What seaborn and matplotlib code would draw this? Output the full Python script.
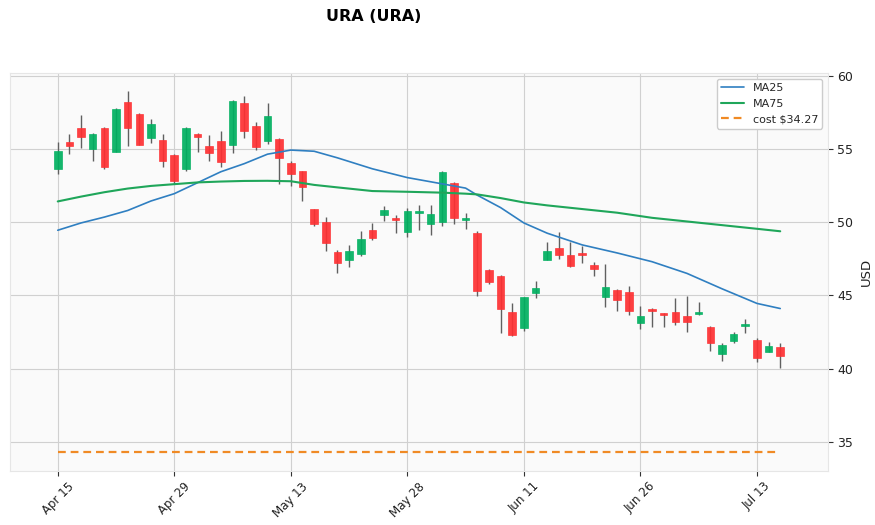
import numpy as np
import pandas as pd
import matplotlib
matplotlib.use("Agg")
import matplotlib.pyplot as plt
import seaborn as sns

title = "URA (URA)"
opens = [53.65, 55.49, 56.45, 54.97, 56.45, 54.81, 58.22, 57.40, 55.74, 55.63,
         54.60, 53.67, 56.04, 55.22, 55.56, 55.29, 58.16, 56.58, 55.58, 55.70,
         54.08, 53.51, 50.87, 50.03, 47.98, 47.45, 47.86, 49.48, 50.46, 50.32,
         49.36, 50.66, 49.91, 49.98, 52.69, 50.12, 49.26, 46.70, 46.29, 43.88,
         42.74, 45.13, 47.45, 48.25, 47.77, 47.91, 47.09, 44.86, 45.38, 45.25,
         43.08, 44.06, 43.79, 43.86, 43.61, 43.70, 42.86, 40.96, 41.85, 42.92,
         41.97, 41.10, 41.49]
highs = [55.47, 56.02, 57.34, 56.10, 56.50, 57.79, 58.98, 57.45, 57.04, 56.02,
         54.65, 56.50, 56.07, 55.97, 56.24, 58.36, 58.63, 56.84, 58.14, 55.75,
         54.20, 53.52, 50.92, 50.35, 48.11, 48.44, 49.43, 49.94, 51.10, 50.49,
         50.96, 51.19, 51.19, 53.49, 52.74, 50.62, 49.43, 46.80, 46.36, 44.47,
         44.90, 46.00, 48.64, 49.36, 48.64, 48.39, 47.27, 47.14, 45.43, 45.64,
         44.24, 44.13, 43.80, 44.82, 44.97, 44.54, 42.90, 41.76, 42.49, 43.38,
         42.06, 41.83, 41.74]
lows = [53.29, 54.65, 55.06, 54.15, 53.63, 54.80, 55.24, 55.25, 55.38, 53.76,
        52.62, 53.51, 54.81, 54.15, 53.78, 54.72, 55.74, 54.95, 55.33, 52.62,
        52.49, 51.48, 49.71, 48.03, 46.52, 46.97, 47.70, 48.78, 50.10, 49.28,
        48.98, 49.46, 49.12, 49.75, 49.89, 49.55, 44.97, 45.80, 42.42, 42.24,
        42.58, 44.79, 47.41, 47.48, 46.97, 47.21, 46.34, 44.20, 43.93, 43.65,
        42.72, 42.83, 42.83, 42.97, 42.49, 43.69, 41.20, 40.51, 41.74, 42.42,
        40.42, 41.10, 40.03]
closes = [54.88, 55.24, 55.85, 56.04, 53.74, 57.75, 56.47, 55.29, 56.70, 54.21,
          52.85, 56.47, 55.79, 54.76, 54.13, 58.31, 56.26, 55.17, 57.27, 54.38,
          53.29, 52.44, 49.91, 48.61, 47.18, 48.05, 48.87, 48.89, 50.85, 50.12,
          50.80, 50.78, 50.57, 53.44, 50.32, 50.30, 45.27, 45.88, 44.04, 42.31,
          44.86, 45.52, 48.05, 47.79, 47.04, 47.73, 46.77, 45.59, 44.65, 43.90,
          43.59, 43.90, 43.65, 43.15, 43.15, 43.88, 41.74, 41.63, 42.38, 43.01,
          40.69, 41.56, 40.83]

ma_idx = [0, 2, 4, 6, 8, 10, 12, 14, 16, 18, 20, 22, 24, 27, 30, 33, 35, 36,
          38, 40, 42, 45, 48, 51, 54, 57, 60, 62]
ma25 = [49.45, 49.95, 50.35, 50.80, 51.45, 51.95, 52.70, 53.45, 54.00, 54.65,
        54.93, 54.85, 54.40, 53.65, 53.05, 52.62, 52.33, 51.85, 51.00, 49.95,
        49.25, 48.45, 47.90, 47.30, 46.50, 45.45, 44.45, 44.10]
ma75 = [51.42, 51.75, 52.05, 52.30, 52.48, 52.60, 52.72, 52.78, 52.82, 52.83,
        52.80, 52.55, 52.38, 52.13, 52.08, 52.02, 51.95, 51.90, 51.65, 51.35,
        51.15, 50.90, 50.65, 50.30, 50.05, 49.80, 49.55, 49.38]
cost = 34.27

tick_idx = [0, 10, 20, 30, 40, 50, 60]
tick_labels = ["Apr 15", "Apr 29", "May 13", "May 28", "Jun 11", "Jun 26", "Jul 13"]
y_ticks = [35, 40, 45, 50, 55, 60]

sns.set_theme(style="whitegrid")
plt.rcParams['font.family'] = ['DejaVu Sans']

fig = plt.figure(figsize=(8.75, 5.25), dpi=100)
ax = fig.add_axes([0.0114, 0.103, 0.9349, 0.758])
ax.set_facecolor('#fafafa')

df = pd.DataFrame({'o': opens, 'h': highs, 'l': lows, 'c': closes})
df['x'] = np.arange(len(df))
up_c, dn_c = '#00b060', '#fe3032'
cols = [up_c if c >= o else dn_c for o, c in zip(df.o, df.c)]
ax.vlines(df.x, df.l, df.h, color='#606060', lw=1.0, zorder=2)
body_bot = np.minimum(df.o, df.c)
body_h = np.maximum(np.abs(df.c - df.o), 0.05)
ax.bar(df.x, body_h, bottom=body_bot, width=0.65, color=cols,
       edgecolor=cols, lw=0.5, zorder=3, alpha=0.92)

sns.lineplot(x=ma_idx, y=ma25, ax=ax, color='#2f7fc1', lw=1.2, label='MA25', zorder=4)
sns.lineplot(x=ma_idx, y=ma75, ax=ax, color='#1fa65a', lw=1.5, label='MA75', zorder=4)
sns.lineplot(x=[0, len(df) - 1], y=[cost, cost], ax=ax, color='#f08a24', lw=1.6,
             linestyle=(0, (3.5, 2.2)), label=r'cost \$34.27', zorder=4)

ax.set_xlim(-4.1, 66.1)
ax.set_ylim(33.0, 60.2)
ax.set_xticks(tick_idx)
ax.set_xticklabels(tick_labels, rotation=45, ha='center', fontsize=8.5)
ax.set_yticks(y_ticks)
ax.yaxis.tick_right()
ax.yaxis.set_label_position('right')
ax.set_ylabel('USD', fontsize=9.5, color='#222222', labelpad=5)
ax.set_xlabel('')
ax.tick_params(axis='both', which='both', length=3.5, width=0.8, color='#333333',
               labelsize=9, labelcolor='#222222', bottom=True, right=True, pad=3)
ax.tick_params(axis='x', labelsize=8.5)
ax.grid(True, color='#d0d0d0', lw=0.8, ls='-')
ax.set_axisbelow(True)
for s in ax.spines.values():
    s.set_color('#e6e6e6')
    s.set_linewidth(0.8)

leg = ax.legend(loc='upper right', fontsize=8, frameon=True, fancybox=True,
                facecolor='white', edgecolor='#cccccc', framealpha=1.0,
                borderpad=0.4, handlelength=2.0)

fig.text(0.427, 0.969, title, ha='center', va='center', fontsize=11.5,
         fontweight='bold', color='black')

fig.savefig('out.png', dpi=100)
